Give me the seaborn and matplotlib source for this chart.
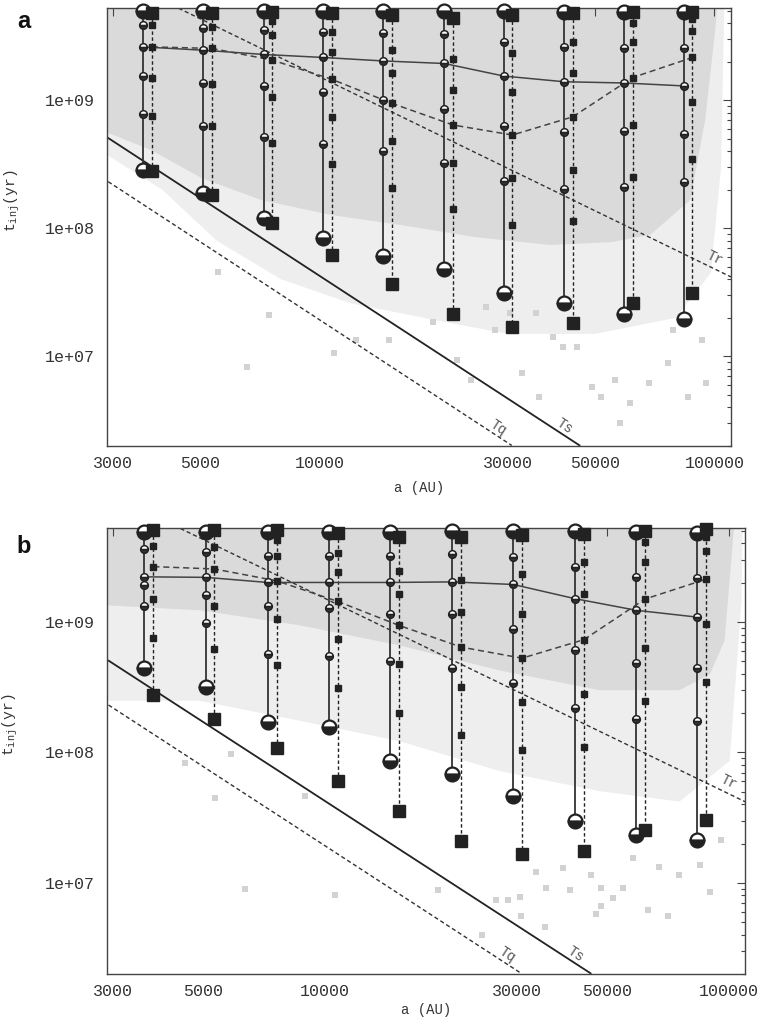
import matplotlib
matplotlib.use("Agg")
import seaborn as sns
from matplotlib import pyplot as plt
from matplotlib.ticker import FixedLocator, FixedFormatter, LogLocator, NullLocator, NullFormatter

# semi-major axis of each bin (AU): circle column and the square column beside it
A_CIRC = [3580, 5080, 7230, 10240, 14510, 20720, 29300, 41670, 59050, 83650]
A_SQ = [3770, 5340, 7610, 10770, 15270, 21800, 30820, 43840, 62120, 88000]

# panel a: t_inj (yr) of the markers in each column, top to bottom
CIRC_A = [
    [5.00e9, 3.84e9, 2.60e9, 1.54e9, 7.74e8, 2.85e8],
    [4.94e9, 3.66e9, 2.45e9, 1.36e9, 6.27e8, 1.89e8],
    [4.94e9, 3.51e9, 2.27e9, 1.29e9, 5.18e8, 1.20e8],
    [4.94e9, 3.37e9, 2.15e9, 1.15e9, 4.52e8, 8.45e7],
    [4.94e9, 3.31e9, 2.02e9, 1.00e9, 4.00e8, 6.08e7],
    [4.94e9, 3.25e9, 1.93e9, 8.46e8, 3.21e8, 4.79e7],
    [4.94e9, 2.85e9, 1.54e9, 6.27e8, 2.34e8, 3.11e7],
    [4.88e9, 2.60e9, 1.39e9, 5.66e8, 2.01e8, 2.63e7],
    [4.88e9, 2.53e9, 1.36e9, 5.73e8, 2.11e8, 2.15e7],
    [4.88e9, 2.53e9, 1.29e9, 5.40e8, 2.31e8, 1.95e7],
]
SQ_A = [
    [4.79e9, 3.84e9, 2.60e9, 1.48e9, 7.50e8, 2.80e8],
    [4.79e9, 3.73e9, 2.53e9, 1.33e9, 6.27e8, 1.82e8],
    [4.88e9, 4.13e9, 3.21e9, 2.05e9, 1.06e9, 4.65e8, 1.09e8],
    [4.74e9, 3.37e9, 2.38e9, 1.45e9, 7.41e8, 3.15e8, 6.19e7],
    [4.60e9, 2.45e9, 1.62e9, 9.43e8, 4.79e8, 2.07e8, 3.66e7],
    [4.38e9, 2.08e9, 1.20e9, 6.39e8, 3.21e8, 1.41e8, 2.15e7],
    [4.60e9, 2.31e9, 1.15e9, 5.34e8, 2.48e8, 1.06e8, 1.71e7],
    [4.74e9, 2.85e9, 1.63e9, 7.41e8, 2.85e8, 1.13e8, 1.82e7],
    [4.88e9, 4.03e9, 2.85e9, 1.50e9, 6.39e8, 2.52e8, 2.63e7],
    [4.88e9, 4.33e9, 3.45e9, 2.15e9, 9.70e8, 3.47e8, 3.15e7],
]

# panel b
CIRC_B = [
    [4.94e9, 3.62e9, 2.22e9, 1.92e9, 1.33e9, 4.45e8],
    [4.94e9, 3.47e9, 2.20e9, 1.61e9, 9.89e8, 3.15e8],
    [4.94e9, 3.23e9, 2.01e9, 1.33e9, 5.64e8, 1.72e8],
    [4.94e9, 3.23e9, 2.01e9, 1.29e9, 5.44e8, 1.57e8],
    [4.94e9, 3.23e9, 2.01e9, 1.16e9, 5.00e8, 8.59e7],
    [5.00e9, 3.31e9, 2.03e9, 1.16e9, 4.45e8, 6.78e7],
    [5.00e9, 3.17e9, 1.94e9, 8.78e8, 3.41e8, 4.61e7],
    [5.00e9, 2.63e9, 1.51e9, 6.05e8, 2.21e8, 2.96e7],
    [4.94e9, 2.20e9, 1.23e9, 4.86e8, 1.80e8, 2.34e7],
    [4.80e9, 2.18e9, 1.09e9, 4.45e8, 1.75e8, 2.14e7],
]
SQ_B = [
    [5.09e9, 3.85e9, 2.66e9, 1.49e9, 7.53e8, 2.77e8],
    [5.09e9, 3.75e9, 2.55e9, 1.33e9, 6.24e8, 1.80e8],
    [5.09e9, 4.26e9, 3.23e9, 2.07e9, 1.06e9, 4.64e8, 1.08e8],
    [4.80e9, 3.40e9, 2.40e9, 1.44e9, 7.36e8, 3.12e8, 6.02e7],
    [4.52e9, 2.47e9, 1.63e9, 9.43e8, 4.78e8, 2.02e8, 3.58e7],
    [4.47e9, 2.10e9, 1.19e9, 6.42e8, 3.15e8, 1.36e8, 2.10e7],
    [4.66e9, 2.32e9, 1.15e9, 5.28e8, 2.45e8, 1.04e8, 1.66e7],
    [4.72e9, 2.87e9, 1.64e9, 7.32e8, 2.81e8, 1.11e8, 1.76e7],
    [5.00e9, 4.09e9, 2.90e9, 1.50e9, 6.35e8, 2.49e8, 2.55e7],
    [5.18e9, 4.47e9, 3.51e9, 2.13e9, 9.72e8, 3.49e8, 3.05e7],
]

# timescale lines, end points
TS_A, TS_T = [2920, 45600], [5.06e8, 2.02e6]
TQ_A, TQ_T = [2920, 30700], [2.31e8, 2.02e6]
TR_A, TR_T = [4400, 110200], [5.21e9, 4.17e7]

# lower edge of the dense cloud of simulated comets, and of its thinner fringe
DENSE_A_X = [2800, 3755, 5023, 7127, 10700, 16090, 25000, 38520, 55000, 68870, 86900, 94800, 100500, 102000]
DENSE_A_T = [5.84e8, 4.07e8, 2.47e8, 1.66e8, 1.27e8, 1.06e8, 8.5e7, 7.4e7, 7.8e7, 8.9e7, 1.66e8, 7.0e8, 3.5e9, 6e9]
FRINGE_A_X = [2800, 4000, 5500, 8000, 12000, 20000, 30000, 50000, 80000, 98000, 104000, 106000]
FRINGE_A_T = [4.0e8, 2.0e8, 8.0e7, 4.0e7, 2.6e7, 1.9e7, 1.5e7, 1.5e7, 2.0e7, 4.5e7, 3.0e8, 6e9]
DENSE_B_X = [2800, 4905, 8670, 15330, 27120, 47930, 75620, 90000, 97740, 103500]
DENSE_B_T = [1.35e9, 1.23e9, 9.44e8, 6.62e8, 4.25e8, 3.0e8, 3.0e8, 4.0e8, 7.2e8, 6e9]
FRINGE_B_X = [2800, 4905, 8670, 15330, 27120, 47930, 75620, 100600, 107700, 108300]
FRINGE_B_T = [2.49e8, 2.49e8, 1.75e8, 1.22e8, 7.2e7, 5.05e7, 4.2e7, 8.6e7, 1.47e9, 6e9]

# isolated points below the cloud
DOTS_A_X = [5550, 7470, 6560, 10890, 12380, 19360, 22280, 27800, 32500, 35300, 39000, 44800, 48900, 56200, 61000,
            68500, 78800, 85600, 95500, 57800, 51500, 35900, 76500, 93300, 24200, 41300, 30300, 15000, 26400]
DOTS_A_T = [4.56e7, 2.11e7, 8.3e6, 1.07e7, 1.35e7, 1.86e7, 9.4e6, 1.61e7, 7.4e6, 2.19e7, 1.42e7, 1.19e7, 5.8e6, 6.6e6, 4.3e6,
            6.2e6, 1.61e7, 4.8e6, 6.2e6, 3.0e6, 4.8e6, 4.8e6, 8.9e6, 1.35e7, 6.6e6, 1.19e7, 2.19e7, 1.35e7, 2.44e7]
DOTS_B_X = [10590, 19080, 24550, 26600, 28420, 30500, 30680, 35040, 35400, 40400, 45700, 48400, 48400, 51700, 54700, 57900,
            63100, 70800, 75600, 89800, 84800, 95900, 67400, 38900, 33400, 47050, 4504, 5350, 8925, 5880, 6340]
DOTS_B_T = [8.1e6, 8.8e6, 4.0e6, 7.4e6, 7.4e6, 7.8e6, 5.6e6, 4.6e6, 9.1e6, 8.8e6, 1.15e7, 9.1e6, 6.7e6, 7.6e6, 9.1e6, 1.54e7,
            6.2e6, 5.6e6, 1.15e7, 8.5e6, 1.37e7, 2.14e7, 1.33e7, 1.29e7, 1.22e7, 5.8e6, 8.3e7, 4.5e7, 4.6e7, 9.7e7, 9.0e6]

X_TICKS = [3000, 5000, 10000, 30000, 50000, 100000]
X_LABELS = ["3000", "5000", "10000", "30000", "50000", "100000"]
Y_TICKS = [1e7, 1e8, 1e9]
Y_LABELS = ["1e+07", "1e+08", "1e+09"]
XLIM = (2900, 110000)
YLIM = (2.0e6, 5.23e9)

sns.set_theme(style="white")
plt.rcParams["font.family"] = ["Liberation Mono", "DejaVu Sans Mono"]
plt.rcParams["mathtext.fontset"] = "custom"
plt.rcParams["mathtext.rm"] = "Liberation Mono"
plt.rcParams["mathtext.it"] = "Liberation Mono"

INK = "#222222"


def draw_panel(ax, circ, sq, dense, fringe, dots, xlab_y):
    ax.set_xscale("log")
    ax.set_yscale("log")

    # the cloud of points
    fx, ft = fringe
    ax.fill(fx + [fx[0]], ft + [6e9], color="#eeeeee", lw=0, zorder=0)
    dx, dt = dense
    ax.fill(dx + [dx[0]], dt + [6e9], color="#dadada", lw=0, zorder=0.5)
    sns.scatterplot(x=dots[0], y=dots[1], ax=ax, color="#d2d2d2", s=13, marker="s",
                    linewidth=0, zorder=1)

    # timescale lines
    sns.lineplot(x=TS_A, y=TS_T, ax=ax, color=INK, lw=1.3, zorder=2)
    sns.lineplot(x=TQ_A, y=TQ_T, ax=ax, color="#333333", lw=1.0, linestyle=(0, (3, 2)), zorder=2)
    sns.lineplot(x=TR_A, y=TR_T, ax=ax, color="#333333", lw=1.0, linestyle=(0, (3, 2)), zorder=2)

    # one column of circles and one of squares per bin
    for i in range(len(A_CIRC)):
        c, s = circ[i], sq[i]
        ax.plot([A_CIRC[i]] * len(c), c, color="#333333", lw=1.3, zorder=3, clip_on=False)
        ax.plot([A_SQ[i]] * len(s), s, color=INK, lw=1.0, linestyle=(0, (2.5, 1.8)), zorder=3, clip_on=False)
        ax.plot([A_CIRC[i]] * (len(c) - 2), c[1:-1], ls="none", marker="o", ms=5.5, fillstyle="bottom",
                mfc="#333333", mfcalt="white", mec=INK, mew=1.1, zorder=5, clip_on=False)
        ax.plot([A_CIRC[i]] * 2, [c[0], c[-1]], ls="none", marker="o", ms=10, fillstyle="bottom",
                mfc=INK, mfcalt="white", mec=INK, mew=1.6, zorder=6, clip_on=False)
        ax.plot([A_SQ[i]] * (len(s) - 2), s[1:-1], ls="none", marker="s", ms=4.6, color=INK,
                zorder=5, clip_on=False)
        ax.plot([A_SQ[i]] * 2, [s[0], s[-1]], ls="none", marker="s", ms=8.5, color=INK,
                zorder=6, clip_on=False)

    # median of each column joined across the bins
    sns.lineplot(x=A_CIRC, y=[c[len(c) - 4] for c in circ], ax=ax, color="#444444", lw=1.1, zorder=4)
    sns.lineplot(x=A_SQ, y=[s[len(s) - 4] for s in sq], ax=ax, color="#444444", lw=1.1,
                 linestyle=(0, (4, 2.5)), zorder=4)

    lab = dict(color="#555555", fontsize=10, ha="center", va="center", zorder=7)
    ax.text(28400, 2.8e6, "Tq", rotation=-33, **lab)
    ax.text(41800, 2.85e6, "Ts", rotation=-33, **lab)
    ax.text(100000, 5.9e7, "Tr", rotation=-26, **lab)

    ax.set_xlim(*XLIM)
    ax.set_ylim(*YLIM)
    ax.xaxis.set_major_locator(FixedLocator(X_TICKS))
    ax.xaxis.set_major_formatter(FixedFormatter(X_LABELS))
    ax.xaxis.set_minor_locator(NullLocator())
    ax.yaxis.set_major_locator(FixedLocator(Y_TICKS))
    ax.yaxis.set_major_formatter(FixedFormatter(Y_LABELS))
    ax.yaxis.set_minor_locator(LogLocator(base=10, subs=range(2, 10)))
    ax.yaxis.set_minor_formatter(NullFormatter())
    ax.tick_params(which="both", direction="in", top=True, right=True, color="#444444",
                   labelcolor="#333333", labelsize=12, width=0.8)
    ax.tick_params(which="major", length=6)
    ax.tick_params(which="minor", length=3)
    ax.tick_params(axis="x", pad=7)
    ax.tick_params(axis="y", pad=9)
    for sp in ax.spines.values():
        sp.set_color("#444444")
        sp.set_linewidth(1.0)
    ax.set_xlabel("a (AU)", fontsize=10, color="#333333")
    ax.set_ylabel(r"t$_{\mathrm{inj}}$(yr)", fontsize=10.5, color="#333333")
    ax.xaxis.set_label_coords(0.5, xlab_y)
    ax.yaxis.set_label_coords(-0.137, 0.56)


fig = plt.figure(figsize=(7.65, 10.24), dpi=100)
ax_a = fig.add_axes([107 / 765, 1 - 446 / 1024, 623.7 / 765, 438 / 1024])
ax_b = fig.add_axes([107.3 / 765, 1 - 974 / 1024, 638 / 765, 445.7 / 1024])

draw_panel(ax_a, CIRC_A, SQ_A, (DENSE_A_X, DENSE_A_T), (FRINGE_A_X, FRINGE_A_T), (DOTS_A_X, DOTS_A_T), -0.08)
draw_panel(ax_b, CIRC_B, SQ_B, (DENSE_B_X, DENSE_B_T), (FRINGE_B_X, FRINGE_B_T), (DOTS_B_X, DOTS_B_T), -0.065)

fig.text(23.5 / 765, 1 - 28 / 1024, "a", fontsize=17, fontweight="bold", family="Liberation Sans",
         ha="center", va="baseline", color="#111111")
fig.text(23.5 / 765, 1 - 553 / 1024, "b", fontsize=17, fontweight="bold", family="Liberation Sans",
         ha="center", va="baseline", color="#111111")

fig.savefig("out.png", dpi=100)
